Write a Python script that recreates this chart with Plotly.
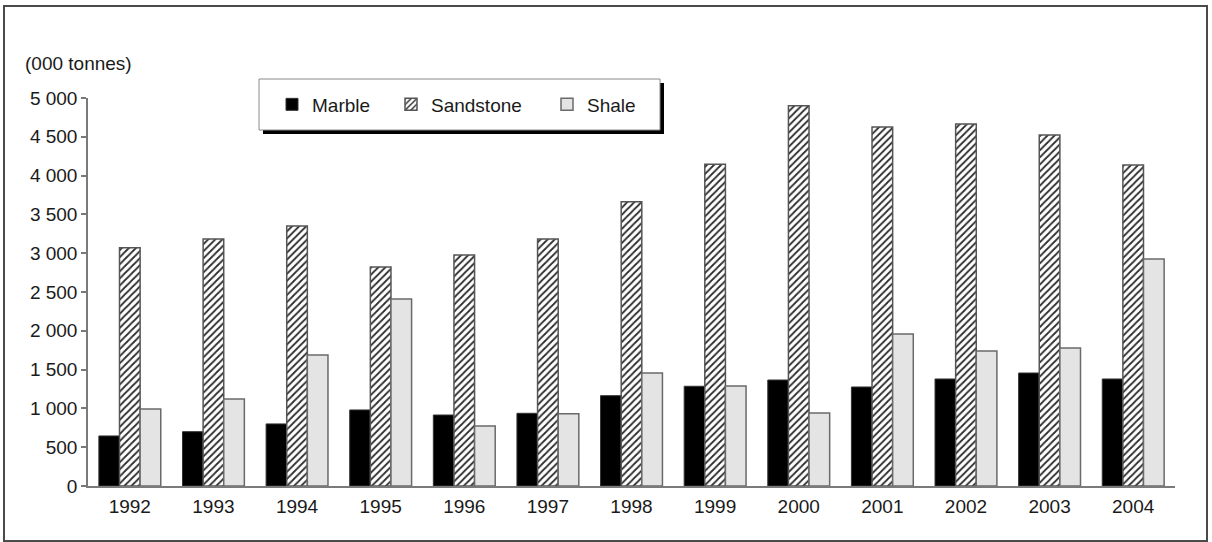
import plotly.graph_objects as go

years = ["1992", "1993", "1994", "1995", "1996", "1997", "1998",
         "1999", "2000", "2001", "2002", "2003", "2004"]
marble = [645, 700, 800, 980, 915, 937, 1164, 1285, 1366, 1276, 1379, 1456, 1379]
sandstone = [3070, 3183, 3350, 2822, 2977, 3183, 3664, 4146, 4901, 4627, 4665, 4523, 4137]
shale = [992, 1121, 1688, 2410, 773, 932, 1456, 1289, 941, 1959, 1740, 1778, 2925]
y_title = "(000 tonnes)"

W, H = 1212, 542
ML, MR, MT, MB = 88, 37, 98, 56
PW = W - ML - MR
PH = H - MT - MB

def px_x(p):
    return (p - ML) / PW

def px_y(p):
    return (H - MB - p) / PH

FONT = "Liberation Sans, Arial, sans-serif"
FS = 19
TXT = "#1a1a1a"

fig = go.Figure()
fig.add_trace(go.Bar(
    x=years, y=marble, name="Marble", legendwidth=74,
    marker=dict(color="#000000", line=dict(color="#333333", width=1)),
))
fig.add_trace(go.Bar(
    x=years, y=sandstone, name="Sandstone", legendwidth=111,
    marker=dict(color="#ffffff", line=dict(color="#555555", width=1.5),
                pattern=dict(shape="/", size=5, solidity=0.35,
                             fgcolor="#2a2a2a", bgcolor="#ffffff",
                             fillmode="replace")),
))
fig.add_trace(go.Bar(
    x=years, y=shale, name="Shale",
    marker=dict(color="#e4e4e4", line=dict(color="#6a6a6a", width=1.5)),
))

shapes = [
    # outer frame
    dict(type="rect", xref="paper", yref="paper", layer="below",
         x0=px_x(4), x1=px_x(1207), y0=px_y(541), y1=px_y(6),
         line=dict(color="#4a4a4a", width=2), fillcolor="rgba(0,0,0,0)"),
    # legend shadow
    dict(type="rect", xref="paper", yref="paper", layer="above",
         x0=px_x(263), x1=px_x(664), y0=px_y(134), y1=px_y(83),
         line=dict(width=0), fillcolor="#000000"),
    # legend box
    dict(type="rect", xref="paper", yref="paper", layer="above",
         x0=px_x(259), x1=px_x(660), y0=px_y(130), y1=px_y(79),
         line=dict(color="#8a8a8a", width=1), fillcolor="#ffffff"),
]

fig.update_layout(
    width=W, height=H,
    margin=dict(l=ML, r=MR, t=MT, b=MB, pad=0),
    paper_bgcolor="#ffffff", plot_bgcolor="#ffffff",
    barmode="group", bargap=0.26, bargroupgap=0,
    separators=". ",
    font=dict(family=FONT, size=FS, color=TXT),
    showlegend=True,
    legend=dict(orientation="h", x=px_x(272), xanchor="left",
                y=px_y(104.5), yanchor="middle",
                bgcolor="rgba(0,0,0,0)", borderwidth=0,
                font=dict(family=FONT, size=FS, color=TXT),
                traceorder="normal"),
    shapes=shapes,
    annotations=[dict(text=y_title, xref="paper", yref="paper",
                      x=px_x(23), y=px_y(63), xanchor="left", yanchor="middle",
                      showarrow=False, font=dict(family=FONT, size=FS, color=TXT))],
    xaxis=dict(type="category", showline=True, linecolor="#7a7a7a", linewidth=1.5,
               ticks="", showgrid=False, zeroline=False,
               tickfont=dict(family=FONT, size=FS, color=TXT), ticklabelstandoff=2),
    yaxis=dict(range=[0, 5000], dtick=500, tickformat=",d", showline=True,
               linecolor="#7a7a7a", linewidth=1.5, ticks="outside", ticklen=5,
               tickcolor="#7a7a7a", tickwidth=1.5, showgrid=False, zeroline=False,
               tickfont=dict(family=FONT, size=FS, color=TXT), ticklabelstandoff=0),
)

fig.write_html("out.html", config={"displayModeBar": False},
               post_script="document.body.style.margin='0';")
